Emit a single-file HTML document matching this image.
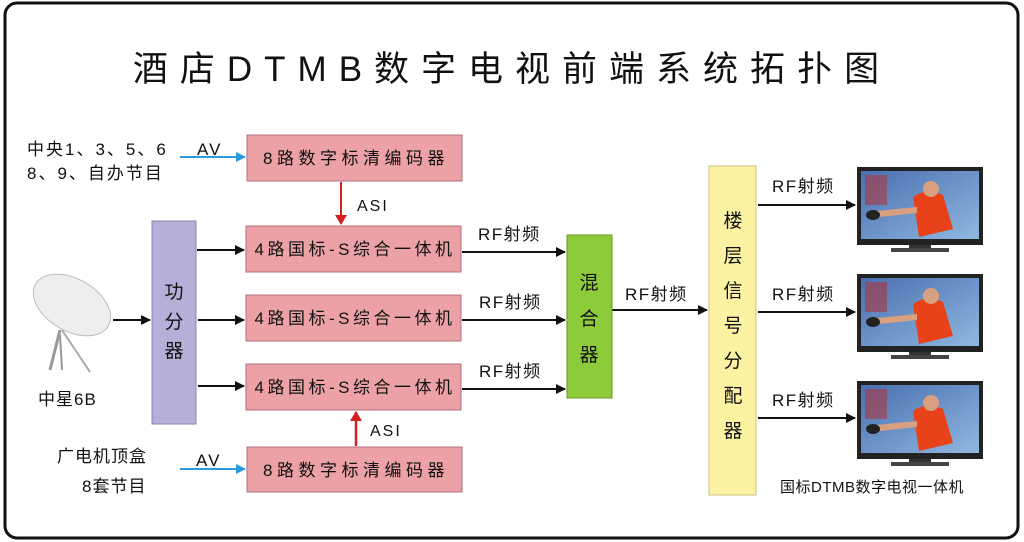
<!DOCTYPE html>
<html><head><meta charset="utf-8"><style>
html,body{margin:0;padding:0;background:#fff}
svg{display:block}
text{font-family:"Liberation Sans","Noto Sans CJK SC",sans-serif;fill:#111}
</style></head><body>
<svg width="1024" height="542" viewBox="0 0 1024 542" xmlns="http://www.w3.org/2000/svg">
<defs>
<marker id="ab" markerWidth="10" markerHeight="10" refX="9" refY="5" orient="auto" markerUnits="userSpaceOnUse"><path d="M0,0 L10,5 L0,10 Z" fill="#111"/></marker>
<marker id="ar" markerWidth="10" markerHeight="12" refX="9" refY="6" orient="auto" markerUnits="userSpaceOnUse"><path d="M0,0 L10,6 L0,12 Z" fill="#d42020"/></marker>
<marker id="abl" markerWidth="10" markerHeight="10" refX="9" refY="5" orient="auto" markerUnits="userSpaceOnUse"><path d="M0,0 L10,5 L0,10 Z" fill="#2a9ad8"/></marker>
<linearGradient id="scr" x1="0" y1="0" x2="1" y2="1"><stop offset="0" stop-color="#4a6fb0"/><stop offset="1" stop-color="#8fb8e0"/></linearGradient>
<g id="tv">
<rect x="0" y="0" width="126" height="78" fill="#222"/>
<rect x="4" y="4" width="118" height="68" fill="url(#scr)"/>
<rect x="8" y="8" width="22" height="30" fill="#a04050" opacity="0.7"/>
<path d="M56,30 Q70,20 86,28 L96,62 L62,70 Z" fill="#e8421a"/>
<circle cx="74" cy="22" r="8" fill="#d9a080"/>
<path d="M20,44 L60,40 L60,46 L22,50 Z" fill="#d9a080"/>
<ellipse cx="16" cy="48" rx="7" ry="5" fill="#222"/>
<rect x="52" y="78" width="22" height="3" fill="#333"/>
<rect x="34" y="81" width="58" height="4" fill="#444"/>
</g>
</defs>
<rect x="5" y="3" width="1013" height="535" rx="12" fill="#fff" stroke="#111" stroke-width="3"/>
<text x="512" y="81" font-size="35" text-anchor="middle" letter-spacing="12">酒店DTMB数字电视前端系统拓扑图</text>

<text x="27" y="155" font-size="17" letter-spacing="2">中央1、3、5、6</text>
<text x="197" y="155" font-size="17" letter-spacing="2">AV</text>
<text x="27" y="179" font-size="17" letter-spacing="2">8、9、自办节目</text>
<line x1="180" y1="157" x2="245" y2="157" stroke="#2a9ad8" stroke-width="2" marker-end="url(#abl)"/>

<g fill="#eba1a6" stroke="#b07078" stroke-width="1">
<rect x="247" y="135" width="215" height="46"/>
<rect x="246" y="226" width="215" height="46"/>
<rect x="246" y="295" width="215" height="46"/>
<rect x="246" y="364" width="215" height="46"/>
<rect x="247" y="447" width="215" height="45"/>
</g>
<g font-size="17" text-anchor="middle">
<text x="356" y="164" letter-spacing="4.5">8路数字标清编码器</text>
<text x="355" y="255" letter-spacing="3.5">4路国标-S综合一体机</text>
<text x="355" y="324" letter-spacing="3.5">4路国标-S综合一体机</text>
<text x="355" y="393" letter-spacing="3.5">4路国标-S综合一体机</text>
<text x="356" y="476" letter-spacing="4.5">8路数字标清编码器</text>
</g>
<line x1="341" y1="182" x2="341" y2="224" stroke="#d42020" stroke-width="2" marker-end="url(#ar)"/>
<text x="357" y="211" font-size="16" letter-spacing="2">ASI</text>
<line x1="356" y1="446" x2="356" y2="412" stroke="#d42020" stroke-width="2.5" marker-end="url(#ar)"/>
<text x="370" y="436" font-size="16" letter-spacing="2">ASI</text>

<rect x="152" y="221" width="44" height="203" fill="#b6b0d8" stroke="#8a84b0"/>
<g font-size="19" text-anchor="middle"><text x="174" y="298">功</text><text x="174" y="328">分</text><text x="174" y="357">器</text></g>

<g>
<ellipse cx="72" cy="305" rx="42" ry="26" transform="rotate(30 72 305)" fill="#eee" stroke="#bbb"/>
<line x1="60" y1="330" x2="50" y2="370" stroke="#999" stroke-width="3"/>
<line x1="62" y1="330" x2="90" y2="372" stroke="#aaa" stroke-width="2"/>
<line x1="60" y1="335" x2="62" y2="370" stroke="#999" stroke-width="2"/>
</g>
<text x="38" y="405" font-size="17" letter-spacing="1">中星6B</text>
<line x1="113" y1="320" x2="150" y2="320" stroke="#111" stroke-width="2" marker-end="url(#ab)"/>
<line x1="197" y1="250" x2="244" y2="250" stroke="#111" stroke-width="2" marker-end="url(#ab)"/>
<line x1="198" y1="320" x2="244" y2="320" stroke="#111" stroke-width="2" marker-end="url(#ab)"/>
<line x1="198" y1="386" x2="244" y2="386" stroke="#111" stroke-width="2" marker-end="url(#ab)"/>

<text x="57" y="462" font-size="17" letter-spacing="1">广电机顶盒</text>
<text x="196" y="466" font-size="17" letter-spacing="2">AV</text>
<text x="82" y="492" font-size="17" letter-spacing="1">8套节目</text>
<line x1="180" y1="469" x2="245" y2="469" stroke="#2a9ad8" stroke-width="2" marker-end="url(#abl)"/>

<g stroke="#111" stroke-width="2">
<line x1="462" y1="252" x2="565" y2="252" marker-end="url(#ab)"/>
<line x1="462" y1="320" x2="565" y2="320" marker-end="url(#ab)"/>
<line x1="462" y1="389" x2="565" y2="389" marker-end="url(#ab)"/>
<line x1="612" y1="310" x2="707" y2="310" marker-end="url(#ab)"/>
<line x1="758" y1="205" x2="855" y2="205" marker-end="url(#ab)"/>
<line x1="758" y1="312" x2="855" y2="312" marker-end="url(#ab)"/>
<line x1="758" y1="418" x2="855" y2="418" marker-end="url(#ab)"/>
</g>
<g font-size="17" letter-spacing="1.5">
<text x="478" y="240">RF射频</text>
<text x="479" y="308">RF射频</text>
<text x="479" y="377">RF射频</text>
<text x="625" y="300">RF射频</text>
<text x="772" y="192">RF射频</text>
<text x="772" y="300">RF射频</text>
<text x="772" y="406">RF射频</text>
</g>

<rect x="567" y="235" width="45" height="163" fill="#8dcb3a" stroke="#6a9a2a"/>
<g font-size="19" text-anchor="middle"><text x="589" y="289">混</text><text x="589" y="325">合</text><text x="589" y="361">器</text></g>

<rect x="709" y="166" width="47" height="329" fill="#fbf3a2" stroke="#c8c080"/>
<g font-size="19" text-anchor="middle"><text x="733" y="227">楼</text><text x="733" y="262">层</text><text x="733" y="297">信</text><text x="733" y="332">号</text><text x="733" y="367">分</text><text x="733" y="402">配</text><text x="733" y="437">器</text></g>

<use href="#tv" x="857" y="167"/>
<use href="#tv" x="857" y="274"/>
<use href="#tv" x="857" y="381"/>
<text x="780" y="492" font-size="15" letter-spacing="0.5">国标DTMB数字电视一体机</text>
</svg>
</body></html>
